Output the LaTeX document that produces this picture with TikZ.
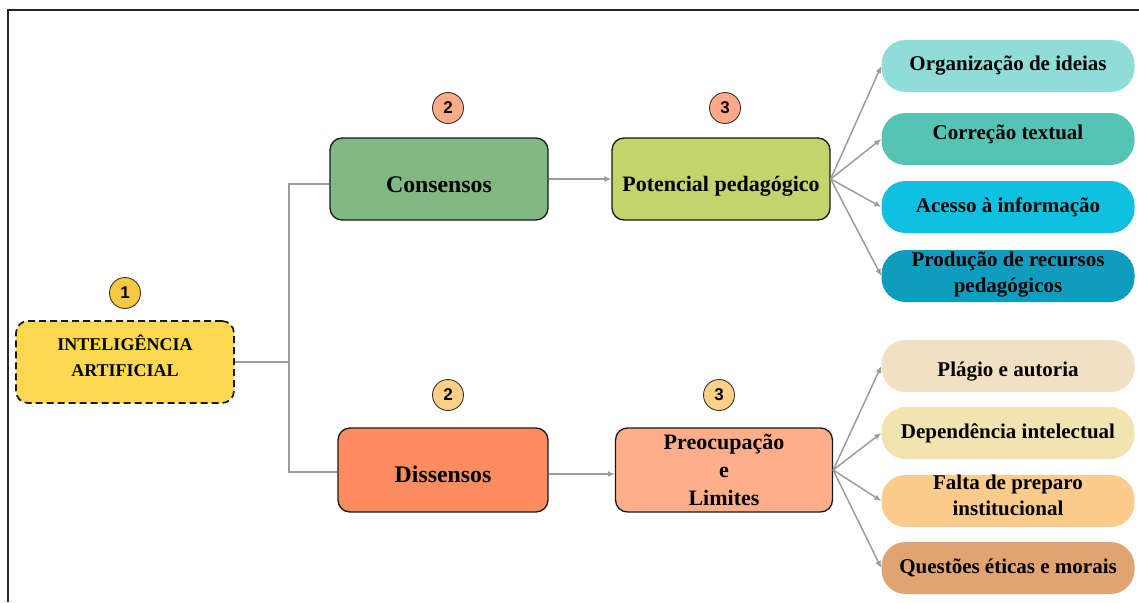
\documentclass[tikz,border=0pt]{standalone}
\usepackage{fontspec}
\setmainfont{Liberation Serif}
\newfontfamily\numfont{Liberation Sans}
\usetikzlibrary{arrows.meta}
\definecolor{iafill}{HTML}{FDD952}
\definecolor{consfill}{HTML}{82B983}
\definecolor{potfill}{HTML}{C2D46B}
\definecolor{disfill}{HTML}{FB8D60}
\definecolor{preofill}{HTML}{FFAE8B}
\definecolor{badgeA}{HTML}{F9C841}
\definecolor{badgeB}{HTML}{FFAB8A}
\definecolor{badgeC}{HTML}{FCD089}
\definecolor{leafA}{HTML}{8FDDD6}
\definecolor{leafB}{HTML}{55C4B5}
\definecolor{leafC}{HTML}{10C0E0}
\definecolor{leafD}{HTML}{0E9DBE}
\definecolor{leafE}{HTML}{F1E1C2}
\definecolor{leafF}{HTML}{F2E4B1}
\definecolor{leafG}{HTML}{FBCB8B}
\definecolor{leafH}{HTML}{E0A472}
\definecolor{linkgray}{HTML}{9C9C9C}
\begin{document}
\begin{tikzpicture}[x=1pt,y=-1pt,
  mainbox/.style={draw=black!90, line width=1.3pt, rounded corners=12pt, minimum width=218pt, minimum height=82pt, inner sep=0pt, align=center, font=\fontsize{22}{28}\selectfont\bfseries},
  bigtext/.style={font=\fontsize{23.8}{28}\selectfont\bfseries},
  leaf/.style={rounded corners=24pt, minimum width=253pt, minimum height=52pt, inner sep=0pt, align=center, font=\fontsize{21}{26}\selectfont\bfseries},
  badge/.style={circle, draw=black!80, line width=0.9pt, minimum size=31pt, inner sep=0pt, font=\numfont\fontsize{17}{17}\selectfont\bfseries},
  link/.style={draw=linkgray, line width=1.5pt},
  arr/.style={link, -{Latex[length=7pt,width=6pt]}}]
\useasboundingbox (0,0) rectangle (1139,602);
\draw[line width=1.3pt, black!85] (8,602) -- (8,10) -- (1139,10);

% main boxes
\node[mainbox, fill=iafill, line width=1.7pt, dash pattern=on 7pt off 4pt, font=\fontsize{18}{26}\selectfont\bfseries, text height=28pt, text depth=0pt] (ia) at (125,362) {INTELIGÊNCIA\\ARTIFICIAL};
\node[mainbox, bigtext, fill=consfill, text height=26pt, text depth=0pt] (cons) at (439,179) {Consensos};
\node[mainbox, fill=potfill, text height=24pt, text depth=0pt] (pot) at (721,179) {Potencial pedagógico};
\node[mainbox, bigtext, fill=disfill, minimum width=210pt, minimum height=84pt, text height=24pt, text depth=0pt] (dis) at (443,470) {Dissensos};
\node[mainbox, fill=preofill, minimum width=217pt, minimum height=84pt] (preo) at (724,470) {Preocupação\\e\\Limites};

% badges
\node[badge, fill=badgeA] (b1) at (125,293) {1};
\node[badge, fill=badgeB] (b2a) at (448,108) {2};
\node[badge, fill=badgeB] (b3a) at (725,108) {3};
\node[badge, fill=badgeC] (b2b) at (448,395) {2};
\node[badge, fill=badgeC] (b3b) at (719,395) {3};

% leaves (upper)
\node[leaf, fill=leafA] (l1) at (1008,66) {Organização de ideias};
\node[leaf, fill=leafB, text height=14pt, text depth=14pt] (l2) at (1008,139) {Correção textual};
\node[leaf, fill=leafC] (l3) at (1008,207) {Acesso à informação};
\node[leaf, fill=leafD, text height=32pt, text depth=0pt] (l4) at (1008,276) {Produção de recursos\\pedagógicos};
% leaves (lower)
\node[leaf, fill=leafE, text height=20pt, text depth=0pt] (l5) at (1008,366) {Plágio e autoria};
\node[leaf, fill=leafF] (l6) at (1008,433) {Dependência intelectual};
\node[leaf, fill=leafG, text height=28pt, text depth=0pt] (l7) at (1008,501) {Falta de preparo\\institucional};
\node[leaf, fill=leafH] (l8) at (1008,568) {Questões éticas e morais};

% connectors
\draw[link] (ia.east) -- (289,362) coordinate (j) |- ([yshift=-5pt]cons.west);
\draw[link] (j) |- ([yshift=-2pt]dis.west);
\draw[arr] (cons.east) -- (pot.west);
\draw[arr] ([yshift=-4pt]dis.east) -- ([yshift=-4pt]preo.west);
\foreach \t in {l1,l2,l3,l4} \draw[arr] (pot.east) -- (\t.west);
\foreach \t in {l5,l6,l7,l8} \draw[arr] (preo.east) -- (\t.west);
\end{tikzpicture}
\end{document}
